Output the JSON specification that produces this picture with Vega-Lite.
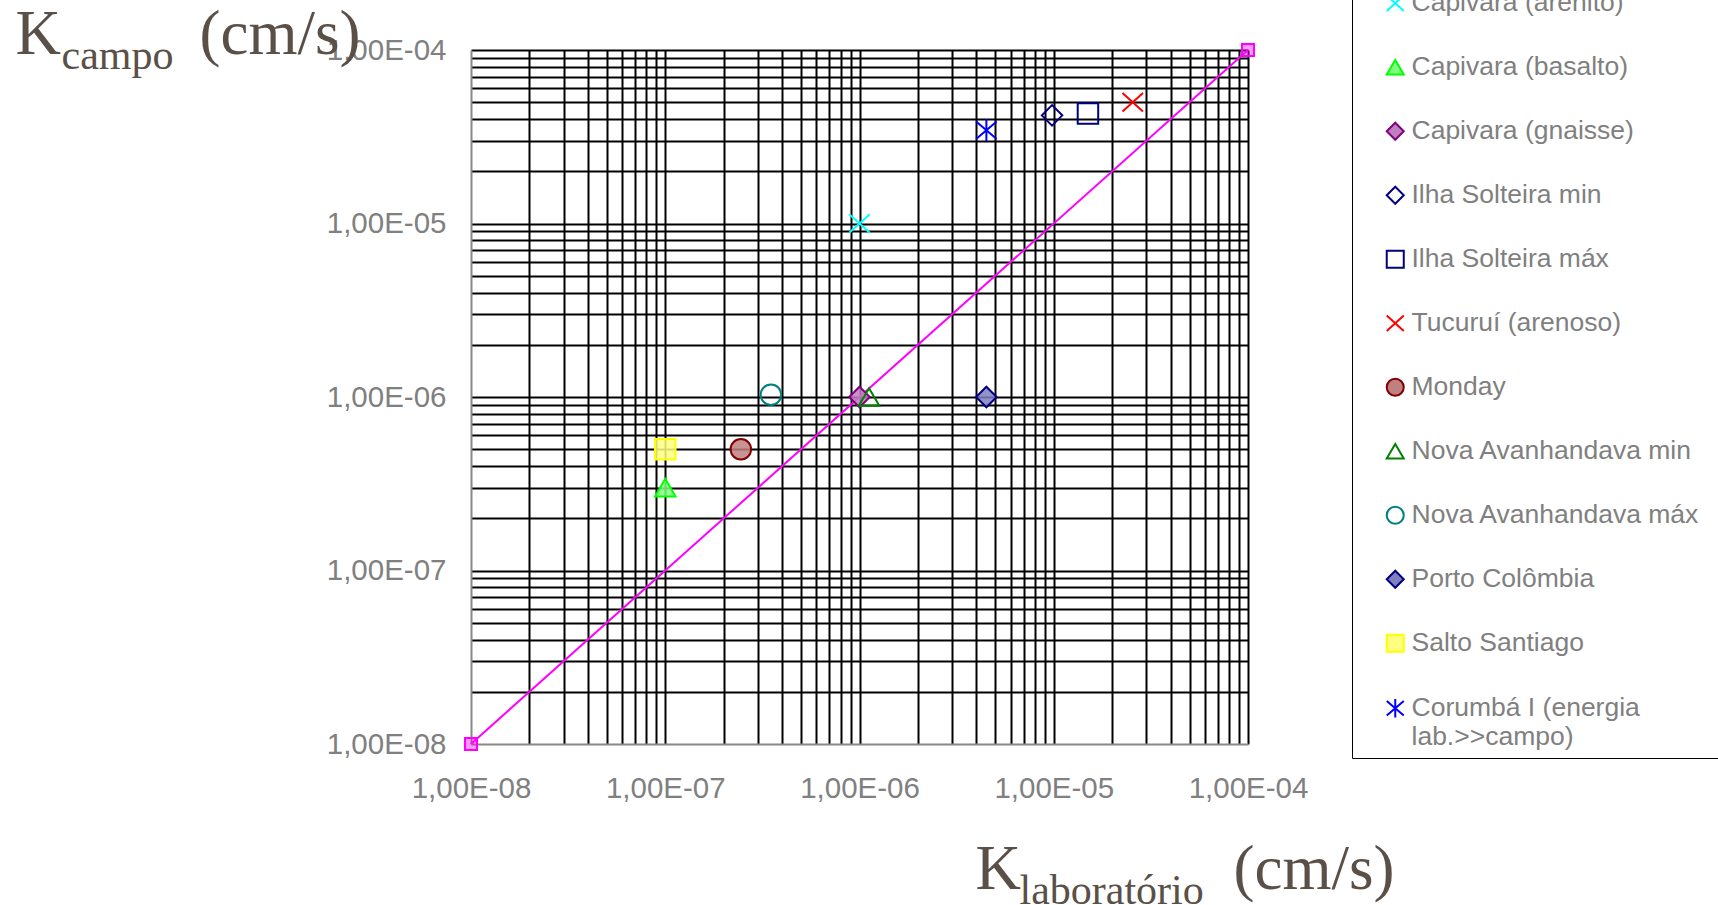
{
  "$schema": "https://vega.github.io/schema/vega-lite/v6.json",
  "width": 777,
  "height": 694,
  "autosize": {"type": "none"},
  "padding": {"left": 471, "top": 50, "right": 470, "bottom": 161},
  "background": "white",
  "config": {
    "view": {"stroke": null},
    "axis": {"titleFont": "Liberation Serif", "titleFontWeight": "normal", "titleColor": "#5a5047", "titleFontSize": 63, "titleAngle": 0, "titleAlign": "left", "titleBaseline": "alphabetic", "labelFont": "Liberation Sans", "labelFontSize": 29.5, "labelColor": "#808080", "ticks": false, "labelFlush": false, "labelOverlap": false}
  },
  "datasets": {
    "line": [
      {"klab": 1e-8, "kcampo": 1e-8},
      {"klab": 1e-4, "kcampo": 1e-4}
    ],
    "points": [
      {"serie": "Capivara (arenito)", "klab": 1e-6, "kcampo": 1e-5},
      {"serie": "Capivara (basalto)", "klab": 1e-7, "kcampo": 3e-7},
      {"serie": "Capivara (gnaisse)", "klab": 1e-6, "kcampo": 1e-6},
      {"serie": "Ilha Solteira min", "klab": 9.8e-6, "kcampo": 4.2e-5},
      {"serie": "Ilha Solteira máx", "klab": 1.5e-5, "kcampo": 4.3e-5},
      {"serie": "Tucuruí (arenoso)", "klab": 2.55e-5, "kcampo": 5e-5},
      {"serie": "Monday", "klab": 2.45e-7, "kcampo": 5e-7},
      {"serie": "Nova Avanhandava min", "klab": 1.12e-6, "kcampo": 1e-6},
      {"serie": "Nova Avanhandava máx", "klab": 3.5e-7, "kcampo": 1.03e-6},
      {"serie": "Porto Colômbia", "klab": 4.5e-6, "kcampo": 1e-6},
      {"serie": "Salto Santiago", "klab": 1e-7, "kcampo": 5e-7},
      {"serie": "Corumbá I (energia lab.>>campo)", "klab": 4.5e-6, "kcampo": 3.45e-5}
    ]
  },
  "resolve": {"axis": {"x": "independent", "y": "independent"}},
  "layer": [
    {
      "data": {"name": "line"},
      "mark": {"type": "line", "color": "#ff00ff", "strokeWidth": 2},
      "encoding": {
        "x": {"field": "klab", "type": "quantitative", "scale": {"type": "log", "domain": [1e-8, 1e-4], "nice": false},
          "axis": {"orient": "bottom", "grid": true, "gridColor": "#000000", "gridWidth": 2, "gridOpacity": 1, "labels": false, "domain": false, "ticks": false,
            "values": [2e-8,3e-8,4e-8,5e-8,6e-8,7e-8,8e-8,9e-8,1e-7,2e-7,3e-7,4e-7,5e-7,6e-7,7e-7,8e-7,9e-7,1e-6,2e-6,3e-6,4e-6,5e-6,6e-6,7e-6,8e-6,9e-6,1e-5,2e-5,3e-5,4e-5,5e-5,6e-5,7e-5,8e-5,9e-5,1e-4],
            "title": "K", "titleX": 504, "titleY": 144}},
        "y": {"field": "kcampo", "type": "quantitative", "scale": {"type": "log", "domain": [1e-8, 1e-4], "nice": false},
          "axis": {"orient": "left", "grid": true, "gridColor": "#000000", "gridWidth": 2, "gridOpacity": 1, "labels": false, "domain": false, "ticks": false,
            "values": [2e-8,3e-8,4e-8,5e-8,6e-8,7e-8,8e-8,9e-8,1e-7,2e-7,3e-7,4e-7,5e-7,6e-7,7e-7,8e-7,9e-7,1e-6,2e-6,3e-6,4e-6,5e-6,6e-6,7e-6,8e-6,9e-6,1e-5,2e-5,3e-5,4e-5,5e-5,6e-5,7e-5,8e-5,9e-5,1e-4],
            "title": "K", "titleX": -456, "titleY": 3}}
      }
    },
    {
      "data": {"name": "line"},
      "mark": {"type": "point", "shape": "square", "size": 144, "filled": true, "fill": "#ff00ff", "fillOpacity": 0.4, "stroke": "#ff00ff", "strokeWidth": 2, "opacity": 1},
      "encoding": {
        "x": {"field": "klab", "type": "quantitative",
          "axis": {"orient": "bottom", "grid": false, "domain": true, "domainColor": "#888888", "domainWidth": 2, "values": [1e-8, 1e-7, 1e-6, 1e-5, 1e-4], "labelPadding": 30, "labelAlign": "center",
            "labelExpr": "'1,00E-0' + round(-log(datum.value)/LN10)",
            "title": "(cm/s)", "titleX": 762, "titleY": 144}},
        "y": {"field": "kcampo", "type": "quantitative",
          "axis": {"orient": "left", "grid": false, "domain": true, "domainColor": "#888888", "domainWidth": 2, "values": [1e-8, 1e-7, 1e-6, 1e-5, 1e-4], "labelPadding": 25, "labelBaseline": "middle",
            "labelExpr": "'1,00E-0' + round(-log(datum.value)/LN10)",
            "title": "(cm/s)", "titleX": -272, "titleY": 3}}
      }
    },
    {
      "data": {"name": "points"},
      "mark": {"type": "point", "size": 420, "strokeWidth": 2, "opacity": 1, "fillOpacity": 0.85},
      "encoding": {
        "x": {"field": "klab", "type": "quantitative",
          "axis": {"orient": "bottom", "grid": false, "domain": false, "labels": false, "title": "laboratório", "titleFontSize": 42, "titleX": 548, "titleY": 159}},
        "y": {"field": "kcampo", "type": "quantitative",
          "axis": {"orient": "left", "grid": false, "domain": false, "labels": false, "title": "campo", "titleFontSize": 42, "titleX": -410, "titleY": 18}},
        "shape": {"field": "serie", "type": "nominal",
          "scale": {"domain": ["Capivara (arenito)", "Capivara (basalto)", "Capivara (gnaisse)", "Ilha Solteira min", "Ilha Solteira máx", "Tucuruí (arenoso)", "Monday", "Nova Avanhandava min", "Nova Avanhandava máx", "Porto Colômbia", "Salto Santiago", "Corumbá I (energia lab.>>campo)"],
            "range": ["M-1,-0.9L1,0.9M-1,0.9L1,-0.9", "triangle-up", "diamond", "diamond", "square", "M-1,-0.9L1,0.9M-1,0.9L1,-0.9", "circle", "triangle-up", "circle", "diamond", "square", "M-1,-0.85L1,0.85M-1,0.85L1,-0.85M0,-1.1L0,1.1"]},
          "legend": {"title": null, "orient": "none", "legendX": 881, "legendY": -67, "padding": 7, "symbolOffset": 23, "rowPadding": 37, "labelOffset": 3,
            "labelFont": "Liberation Sans", "labelFontSize": 26.5, "labelColor": "#808080", "labelLimit": 800, "symbolSize": 290, "symbolStrokeWidth": 2,
            "fillColor": "#ffffff", "strokeColor": "#000000",
            "labelExpr": "datum.label == 'Corumbá I (energia lab.>>campo)' ? ['Corumbá I (energia', 'lab.>>campo)\u00a0\u00a0\u00a0\u00a0\u00a0\u00a0\u00a0\u00a0\u00a0\u00a0\u00a0\u00a0\u00a0\u00a0\u00a0\u00a0\u00a0\u00a0\u00a0\u00a0\u00a0\u00a0\u00a0\u00a0\u00a0\u00a0\u00a0\u00a0\u00a0\u00a0\u00a0\u00a0\u00a0\u00a0\u00a0\u00a0\u00a0\u00a0\u00a0\u00a0\u200b'] : datum.label",
            "encode": {"labels": {"update": {"lineHeight": {"value": 36}}}, "legend": {"update": {"strokeWidth": {"value": 2}}}}}},
        "stroke": {"field": "serie", "type": "nominal",
          "scale": {"domain": ["Capivara (arenito)", "Capivara (basalto)", "Capivara (gnaisse)", "Ilha Solteira min", "Ilha Solteira máx", "Tucuruí (arenoso)", "Monday", "Nova Avanhandava min", "Nova Avanhandava máx", "Porto Colômbia", "Salto Santiago", "Corumbá I (energia lab.>>campo)"],
            "range": ["#00ffff", "#00ff00", "#800080", "#000080", "#000080", "#ff0000", "#800000", "#008000", "#008080", "#000080", "#ffff00", "#0000ff"]}},
        "fill": {"field": "serie", "type": "nominal",
          "scale": {"domain": ["Capivara (arenito)", "Capivara (basalto)", "Capivara (gnaisse)", "Ilha Solteira min", "Ilha Solteira máx", "Tucuruí (arenoso)", "Monday", "Nova Avanhandava min", "Nova Avanhandava máx", "Porto Colômbia", "Salto Santiago", "Corumbá I (energia lab.>>campo)"],
            "range": ["transparent", "#80ff80", "#c080c0", "transparent", "transparent", "transparent", "#c08080", "transparent", "transparent", "#8080c0", "#ffff80", "transparent"]}}
      }
    }
  ]
}
